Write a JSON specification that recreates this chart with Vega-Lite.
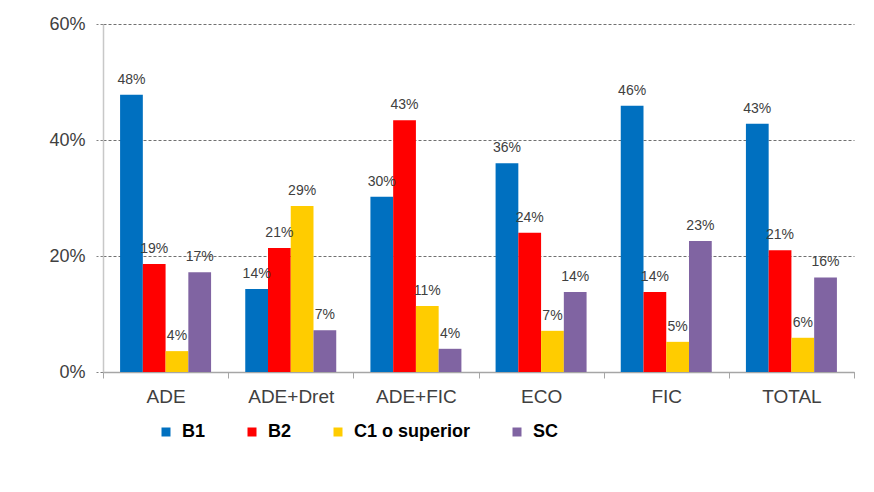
{
  "$schema": "https://vega.github.io/schema/vega-lite/v6.json",
  "width": 751,
  "height": 348,
  "autosize": {"type": "none"},
  "padding": {"left": 103, "top": 24, "right": 20, "bottom": 120},
  "background": "white",
  "config": {
    "font": "Liberation Sans",
    "view": {"stroke": null}
  },
  "data": {
    "values": [
      {"programa": "ADE", "nivel": "B1", "valor": 0.478},
      {"programa": "ADE", "nivel": "B2", "valor": 0.186},
      {"programa": "ADE", "nivel": "C1 o superior", "valor": 0.036},
      {"programa": "ADE", "nivel": "SC", "valor": 0.172},
      {"programa": "ADE+Dret", "nivel": "B1", "valor": 0.143},
      {"programa": "ADE+Dret", "nivel": "B2", "valor": 0.214},
      {"programa": "ADE+Dret", "nivel": "C1 o superior", "valor": 0.286},
      {"programa": "ADE+Dret", "nivel": "SC", "valor": 0.072},
      {"programa": "ADE+FIC", "nivel": "B1", "valor": 0.302},
      {"programa": "ADE+FIC", "nivel": "B2", "valor": 0.434},
      {"programa": "ADE+FIC", "nivel": "C1 o superior", "valor": 0.114},
      {"programa": "ADE+FIC", "nivel": "SC", "valor": 0.040},
      {"programa": "ECO", "nivel": "B1", "valor": 0.360},
      {"programa": "ECO", "nivel": "B2", "valor": 0.240},
      {"programa": "ECO", "nivel": "C1 o superior", "valor": 0.071},
      {"programa": "ECO", "nivel": "SC", "valor": 0.138},
      {"programa": "FIC", "nivel": "B1", "valor": 0.459},
      {"programa": "FIC", "nivel": "B2", "valor": 0.138},
      {"programa": "FIC", "nivel": "C1 o superior", "valor": 0.052},
      {"programa": "FIC", "nivel": "SC", "valor": 0.226},
      {"programa": "TOTAL", "nivel": "B1", "valor": 0.428},
      {"programa": "TOTAL", "nivel": "B2", "valor": 0.210},
      {"programa": "TOTAL", "nivel": "C1 o superior", "valor": 0.059},
      {"programa": "TOTAL", "nivel": "SC", "valor": 0.163}
    ]
  },
  "encoding": {
    "x": {
      "field": "programa",
      "type": "nominal",
      "sort": ["ADE", "ADE+Dret", "ADE+FIC", "ECO", "FIC", "TOTAL"],
      "scale": {"paddingInner": 0, "paddingOuter": 0},
      "axis": {
        "title": null,
        "labelAngle": 0,
        "labelFont": "Liberation Sans",
        "labelFontSize": 19,
        "labelColor": "#404040",
        "labelPadding": 9,
        "tickBand": "extent",
        "tickSize": 6,
        "tickColor": "#A6A6A6",
        "domainColor": "#A6A6A6",
        "domainWidth": 1.5,
        "grid": false
      }
    },
    "xOffset": {
      "field": "nivel",
      "type": "nominal",
      "sort": ["B1", "B2", "C1 o superior", "SC"],
      "scale": {"paddingInner": 0, "paddingOuter": 0.751}
    },
    "y": {
      "field": "valor",
      "type": "quantitative",
      "scale": {"domain": [0, 0.6], "nice": false},
      "axis": {
        "title": null,
        "values": [0, 0.2, 0.4, 0.6],
        "format": ".0%",
        "labelFont": "Liberation Sans",
        "labelFontSize": 18,
        "labelColor": "#404040",
        "labelPadding": 11,
        "tickSize": 7,
        "tickColor": "#808080",
        "tickDash": [3, 2],
        "domainColor": "#C8C8C8",
        "domainWidth": 1.5,
        "grid": true,
        "gridColor": "#707070",
        "gridDash": [3, 2],
        "gridWidth": 1
      }
    }
  },
  "layer": [
    {
      "mark": {"type": "bar"},
      "encoding": {
        "color": {
          "field": "nivel",
          "type": "nominal",
          "sort": ["B1", "B2", "C1 o superior", "SC"],
          "scale": {
            "domain": ["B1", "B2", "C1 o superior", "SC"],
            "range": ["#0070C0", "#FF0000", "#FFCC00", "#8064A2"]
          },
          "legend": {
            "title": null,
            "orient": "none",
            "direction": "horizontal",
            "legendX": 54,
            "legendY": 399,
            "padding": 0,
            "symbolType": "square",
            "symbolSize": 81,
            "symbolStrokeWidth": 0,
            "labelFont": "Liberation Sans",
            "labelFontSize": 18,
            "labelFontWeight": "bold",
            "labelColor": "#000000",
            "labelOffset": 7,
            "columnPadding": 37
          }
        }
      }
    },
    {
      "mark": {
        "type": "text",
        "baseline": "alphabetic",
        "dy": -11,
        "font": "Liberation Sans",
        "fontSize": 14,
        "color": "#404040"
      },
      "encoding": {
        "text": {"field": "valor", "type": "quantitative", "format": ".0%"}
      }
    }
  ]
}
